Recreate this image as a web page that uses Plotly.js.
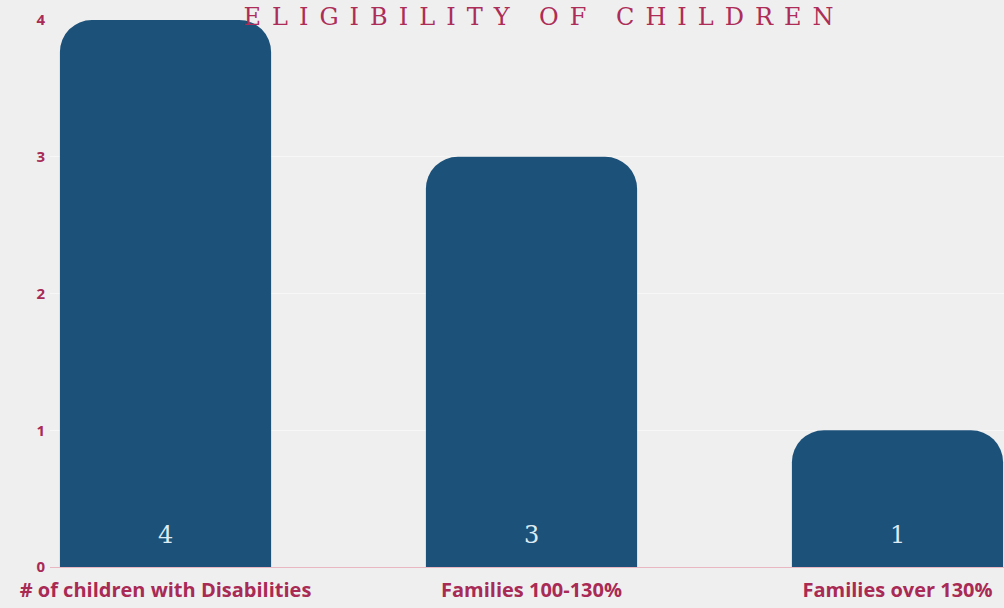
<!DOCTYPE html>
<html>
<head>
<meta charset="utf-8">
<script src="https://cdn.plot.ly/plotly-3.0.1.min.js"></script>
<style>
html,body{margin:0;padding:0;background:#efefef;}
#chart{width:1004px;height:608px;}
</style>
</head>
<body>
<div id="chart"></div>
<script>
const categories = ["# of children with Disabilities", "Families 100-130%", "Families over 130%"];
const values = [4, 3, 1];
const valueLabels = ["4", "3", "1"];
const yTicks = [0, 1, 2, 3, 4];
const titleText = "ELIGIBILITY OF CHILDREN";

const crimson = "#a82a55";
const trace = {
  type: "bar",
  x: categories,
  y: values,
  marker: {color: "#1c5179", cornerradius: 32},
  width: 0.577,
  hoverinfo: "skip"
};
const valueAnnotations = categories.map((c, i) => ({
  text: valueLabels[i],
  x: c, y: 0, xref: "x", yref: "y",
  xanchor: "center", yanchor: "bottom", yshift: 16,
  showarrow: false,
  font: {family: "DejaVu Serif", size: 24, color: "#dcebf4"}
}));
const layout = {
  width: 1004, height: 608,
  margin: {l: 50, r: 0, t: 20, b: 41},
  paper_bgcolor: "#efefef",
  plot_bgcolor: "#efefef",
  showlegend: false,
  xaxis: {
    type: "category",
    range: [-0.3156, 2.291],
    showgrid: false,
    showline: true, linecolor: "#e9b7c2", linewidth: 1,
    zeroline: false,
    ticks: "",
    ticklabelstandoff: 5,
    tickfont: {family: "Open Sans", size: 20, color: crimson, weight: "bold"},
    fixedrange: true
  },
  yaxis: {
    range: [0, 4],
    tickvals: yTicks,
    ticktext: yTicks.map(String),
    showgrid: true, gridcolor: "#f7f7f7", gridwidth: 1,
    zeroline: false,
    ticks: "",
    ticklabelstandoff: 4,
    tickfont: {family: "Open Sans", size: 15, color: crimson, weight: "bold"},
    fixedrange: true
  },
  annotations: [{
    text: titleText,
    xref: "paper", yref: "paper",
    x: 0.5183, y: 1, xanchor: "center", yanchor: "bottom",
    yshift: -13,
    showarrow: false,
    font: {family: "DejaVu Serif", size: 24, color: "#ad2d58"}
  }].concat(valueAnnotations)
};
Plotly.newPlot("chart", [trace], layout, {displayModeBar: false, staticPlot: true}).then(() => {
  const t = document.querySelectorAll(".annotation-text")[0];
  if (t) t.style.letterSpacing = "11px";
});
</script>
</body>
</html>
